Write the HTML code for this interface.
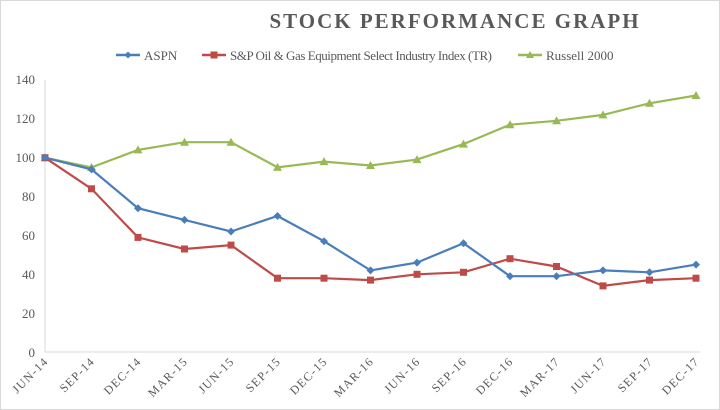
<!DOCTYPE html>
<html><head><meta charset="utf-8"><style>
body{margin:0;background:#fff}
svg{display:block;font-family:"Liberation Serif",serif}
</style></head><body>
<svg width="720" height="410" viewBox="0 0 720 410" xmlns="http://www.w3.org/2000/svg">
<defs>
<marker id="md" markerUnits="userSpaceOnUse" markerWidth="10" markerHeight="10" refX="5" refY="5" overflow="visible"><path d="M5 1l4 4-4 4-4-4z" fill="#4a7ebb"/></marker>
<marker id="ms" markerUnits="userSpaceOnUse" markerWidth="10" markerHeight="10" refX="5" refY="5" overflow="visible"><rect x="1.5" y="1.5" width="7" height="7" fill="#be4b48"/></marker>
<marker id="mt" markerUnits="userSpaceOnUse" markerWidth="10" markerHeight="10" refX="5" refY="5" overflow="visible"><path d="M5 0.5l4.5 8h-9z" fill="#98b954"/></marker>
</defs>
<rect x="0.5" y="0.5" width="719" height="409" fill="#fff" stroke="#d9d9d9"/>
<text x="455" y="28" text-anchor="middle" font-size="21" font-weight="bold" fill="#595959" letter-spacing="2">STOCK PERFORMANCE GRAPH</text>
<g font-size="13" fill="#595959">
<line x1="116" y1="55" x2="140" y2="55" stroke="#4a7ebb" stroke-width="2.5"/><path d="M128 51.5l3.5 3.5-3.5 3.5-3.5-3.5z" fill="#4a7ebb"/>
<text x="144" y="60">ASPN</text>
<line x1="202" y1="55" x2="226" y2="55" stroke="#be4b48" stroke-width="2.5"/><rect x="210.5" y="51.5" width="7" height="7" fill="#be4b48"/>
<text x="230" y="60" textLength="262">S&amp;P Oil &amp; Gas Equipment Select Industry Index (TR)</text>
<line x1="518" y1="55" x2="542" y2="55" stroke="#98b954" stroke-width="2.5"/><path d="M530 51l4 7h-8z" fill="#98b954"/>
<text x="546" y="60">Russell 2000</text>
</g>
<line x1="45" y1="80" x2="45" y2="352" stroke="#d9d9d9"/>
<line x1="45" y1="352" x2="700" y2="352" stroke="#d9d9d9"/>
<g font-size="13" fill="#595959" text-anchor="end">
<text x="35" y="84">140</text><text x="35" y="123">120</text><text x="35" y="162">100</text>
<text x="35" y="201">80</text><text x="35" y="240">60</text><text x="35" y="279">40</text>
<text x="35" y="318">20</text><text x="35" y="357">0</text>
</g>
<g font-size="12" fill="#595959" text-anchor="end" letter-spacing="1.2">
<text x="49" y="362" transform="rotate(-45 49 362)">JUN-14</text>
<text x="95.5" y="362" transform="rotate(-45 95.5 362)">SEP-14</text>
<text x="142" y="362" transform="rotate(-45 142 362)">DEC-14</text>
<text x="188.5" y="362" transform="rotate(-45 188.5 362)">MAR-15</text>
<text x="235" y="362" transform="rotate(-45 235 362)">JUN-15</text>
<text x="281.5" y="362" transform="rotate(-45 281.5 362)">SEP-15</text>
<text x="328" y="362" transform="rotate(-45 328 362)">DEC-15</text>
<text x="374.5" y="362" transform="rotate(-45 374.5 362)">MAR-16</text>
<text x="421" y="362" transform="rotate(-45 421 362)">JUN-16</text>
<text x="467.5" y="362" transform="rotate(-45 467.5 362)">SEP-16</text>
<text x="514" y="362" transform="rotate(-45 514 362)">DEC-16</text>
<text x="560.5" y="362" transform="rotate(-45 560.5 362)">MAR-17</text>
<text x="607" y="362" transform="rotate(-45 607 362)">JUN-17</text>
<text x="653.5" y="362" transform="rotate(-45 653.5 362)">SEP-17</text>
<text x="700" y="362" transform="rotate(-45 700 362)">DEC-17</text>
</g>
<polyline fill="none" stroke="#98b954" stroke-width="2.2" marker-start="url(#mt)" marker-mid="url(#mt)" marker-end="url(#mt)"
points="45,157.7 91.5,167.4 138,149.9 184.5,142.2 231,142.2 277.5,167.4 324,161.6 370.5,165.5 417,159.6 463.5,144.1 510,124.7 556.5,120.8 603,114.9 649.5,103.3 696,95.5"/>
<polyline fill="none" stroke="#be4b48" stroke-width="2.2" marker-start="url(#ms)" marker-mid="url(#ms)" marker-end="url(#ms)"
points="45,157.7 91.5,188.8 138,237.4 184.5,249 231,245.1 277.5,278.2 324,278.2 370.5,280.1 417,274.3 463.5,272.3 510,258.7 556.5,266.5 603,285.9 649.5,280.1 696,278.2"/>
<polyline fill="none" stroke="#4a7ebb" stroke-width="2.2" marker-start="url(#md)" marker-mid="url(#md)" marker-end="url(#md)"
points="45,157.7 91.5,169.4 138,208.2 184.5,219.9 231,231.5 277.5,216 324,241.2 370.5,270.4 417,262.6 463.5,243.2 510,276.2 556.5,276.2 603,270.4 649.5,272.3 696,264.6"/>
</svg>
</body></html>
